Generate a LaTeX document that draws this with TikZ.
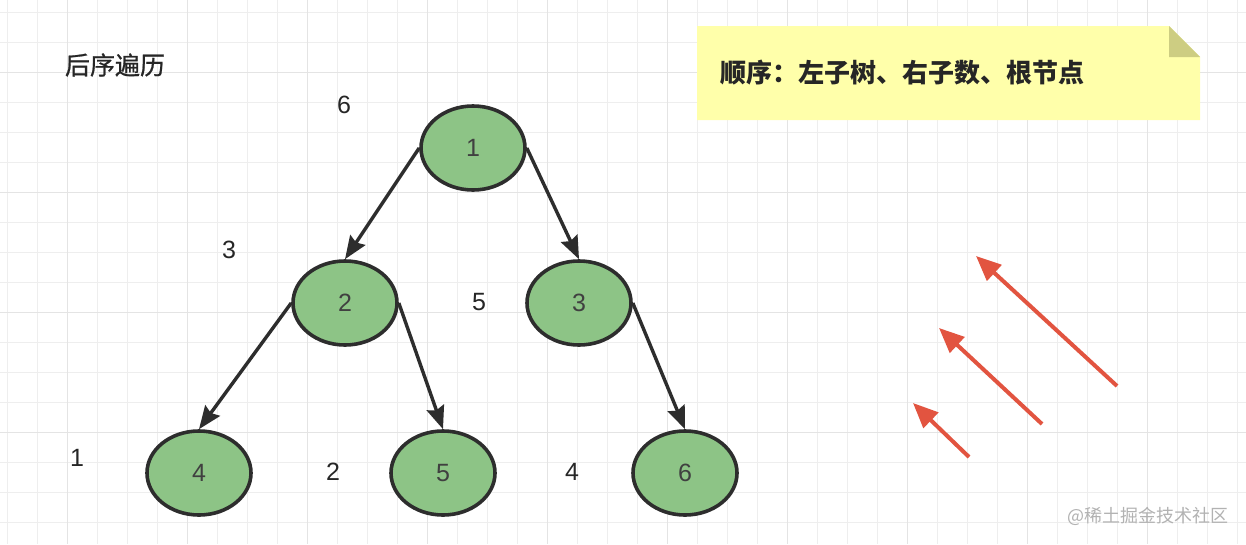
\documentclass[tikz,border=0pt]{standalone}
\usepackage{fontspec}
\setmainfont{Liberation Sans}
\newfontfamily\cjk{Noto Sans CJK SC}
\newfontfamily\cjkmed[FakeBold=0.8]{Noto Sans CJK SC}
\usetikzlibrary{arrows.meta,shapes.geometric}
\definecolor{nodegreen}{RGB}{141,196,134}
\definecolor{edgegray}{RGB}{45,45,45}
\definecolor{notefill}{RGB}{255,255,170}
\definecolor{notefold}{RGB}{205,205,130}
\definecolor{hintred}{RGB}{226,84,64}
\definecolor{gridgray}{RGB}{238,238,238}
\definecolor{gridmajor}{RGB}{228,228,228}
\begin{document}
\begin{tikzpicture}[x=1pt,y=-1pt,
  vertex/.style={ellipse,draw=edgegray,line width=3.6pt,fill=nodegreen,minimum width=104pt,minimum height=84pt,inner sep=0pt,text=black!75,font=\fontsize{25}{30}\selectfont},
  order/.style={text=black!85,font=\fontsize{25}{30}\selectfont},
  edge/.style={draw=edgegray,line width=3.4pt,-{Stealth[length=23pt,width=18pt,inset=3pt]}},
  hint/.style={draw=hintred,line width=4pt,-{Triangle[length=25pt,width=21pt]}},
  gridline/.style={draw=gridgray,line width=1pt},
  gridbold/.style={draw=gridmajor,line width=1pt}]
\useasboundingbox [fill=white] (0,0) rectangle (1246,544);
% grid
\foreach \x in {7,37,...,1237} \draw [gridline] (\x,0) -- (\x,544);
\foreach \y in {12,42,...,532} \draw [gridline] (0,\y) -- (1246,\y);
\foreach \x in {67,187,...,1207} \draw [gridbold] (\x,0) -- (\x,544);
\foreach \y in {72,192,...,432} \draw [gridbold] (0,\y) -- (1246,\y);

\node at (115,65) (title) [text=black!85,font=\cjkmed\fontsize{25}{30}\selectfont] {后序遍历};

% note
\fill [notefill] (697,26) -- (1169,26) -- (1200,57) -- (1200,120) -- (697,120) -- cycle;
\fill [notefold] (1169,26) -- (1169,57) -- (1200,57) -- cycle;
\node at (717,73) (note) [anchor=west,text=black!85,font=\cjk\bfseries\fontsize{26}{30}\selectfont] {顺序：左子树、右子数、根节点};

% tree
\node at (473,148) (n1) [vertex] {1};
\node at (345,303) (n2) [vertex] {2};
\node at (579,303) (n3) [vertex] {3};
\node at (199,473) (n4) [vertex] {4};
\node at (443,473) (n5) [vertex] {5};
\node at (685,473) (n6) [vertex] {6};
\draw [edge] (n1.west) -- (n2.north);
\draw [edge] (n1.east) -- (n3.north);
\draw [edge] (n2.west) -- (n4.north);
\draw [edge] (n2.east) -- (n5.north);
\draw [edge] (n3.east) -- (n6.north);

% visit order
\node at (344,105) (o6) [order] {6};
\node at (229,250) (o3) [order] {3};
\node at (479,302) (o5) [order] {5};
\node at (77,458)  (o1) [order] {1};
\node at (333,472) (o2) [order] {2};
\node at (572,472) (o4) [order] {4};

% red arrows
\coordinate (h1a) at (1117,386);
\coordinate (h1b) at (976,256);
\coordinate (h2a) at (1042,424);
\coordinate (h2b) at (939,328);
\coordinate (h3a) at (969,457);
\coordinate (h3b) at (913,403);
\draw [hint] (h1a) -- (h1b);
\draw [hint] (h2a) -- (h2b);
\draw [hint] (h3a) -- (h3b);

\node at (1148,516) (mark) [text=black!30,font=\cjk\fontsize{18}{22}\selectfont] {@稀土掘金技术社区};
\end{tikzpicture}
\end{document}
